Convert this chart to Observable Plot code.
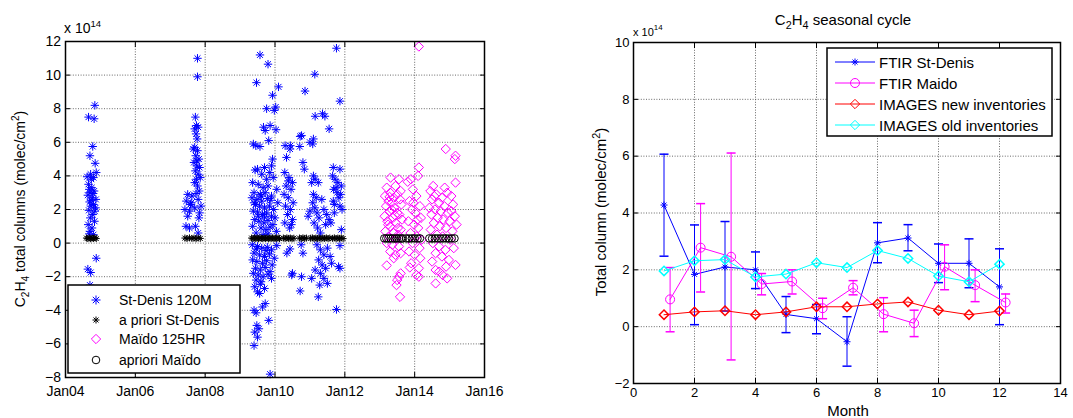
<!DOCTYPE html>
<html>
<head>
<meta charset="utf-8">
<script src="https://cdn.jsdelivr.net/npm/d3@7"></script>
<script src="https://cdn.jsdelivr.net/npm/@observablehq/plot@0.6"></script>
<style>
html,body{margin:0;padding:0;background:#fff;}
#wrap{position:relative;width:1073px;height:418px;overflow:hidden;background:#fff;font-family:"Liberation Sans",Arial,sans-serif;}
#left,#right{position:absolute;top:0;}
#left{left:0;} #right{left:540px;}
#wrap svg{overflow:hidden;background:transparent;}
</style>
</head>
<body>
<div id="wrap"><div id="left"></div><div id="right"></div></div>
<script>
// ---------------- LEFT PANEL DATA (decimal year, column / 1e14) ----------------
const leftXTicks = [2004, 2006, 2008, 2010, 2012, 2014, 2016];
const leftXLabels = ["Jan04", "Jan06", "Jan08", "Jan10", "Jan12", "Jan14", "Jan16"];
const leftYTicks = [-8, -6, -4, -2, 0, 2, 4, 6, 8, 10, 12];

const stDenis = [
  // 2004 campaign
  [2004.84,8.2],[2004.66,7.5],[2004.82,7.4],[2004.78,5.75],[2004.7,5.2],[2004.85,4.75],[2004.62,3.95],[2004.8,3.9],
  [2004.72,4.1],[2004.88,4.2],[2004.66,3.5],[2004.75,3.3],[2004.7,3.0],[2004.82,3.1],[2004.64,2.85],[2004.77,2.7],
  [2004.87,2.6],[2004.69,2.45],[2004.8,2.3],[2004.73,2.2],[2004.86,2.1],[2004.67,1.95],[2004.78,1.7],[2004.71,1.5],
  [2004.83,1.3],[2004.65,1.1],[2004.76,0.9],[2004.7,0.7],[2004.8,0.5],[2004.68,0.55],[2004.88,-0.9],[2004.64,-1.55],
  [2004.72,-1.75],[2004.7,-2.5],[2004.74,3.8],[2004.79,2.95],[2004.73,2.55],[2004.68,3.2],[2004.84,1.9],
  // 2007 campaign
  [2007.78,11.0],[2007.78,9.9],[2007.72,7.5],[2007.75,7.0],[2007.7,6.8],[2007.8,6.9],[2007.74,6.5],[2007.77,6.2],
  [2007.7,5.7],[2007.78,5.5],[2007.73,5.2],[2007.82,5.0],[2007.68,4.8],[2007.76,4.6],[2007.84,4.5],[2007.72,4.3],
  [2007.8,4.1],[2007.75,3.8],[2007.7,3.6],[2007.78,3.4],[2007.83,3.1],[2007.5,2.9],[2007.62,2.8],[2007.74,2.95],
  [2007.46,2.5],[2007.58,2.3],[2007.8,2.6],[2007.42,2.0],[2007.55,1.9],[2007.7,2.1],[2007.84,1.8],[2007.5,1.6],
  [2007.82,1.5],[2007.45,1.0],[2007.55,0.9],[2007.72,1.0],[2007.8,0.6],[2007.76,4.9],[2007.66,5.6],[2007.86,3.9],
  [2007.6,2.4],[2007.88,2.2],
  // 2009-2010 campaign
  [2009.57,11.2],[2009.8,10.65],[2009.47,9.55],[2010.1,9.3],[2009.93,8.8],[2009.76,8.0],[2010.02,8.1],[2009.98,7.9],
  [2009.67,6.9],[2009.86,7.0],[2010.03,6.75],[2009.72,6.7],[2009.38,5.9],[2009.57,5.75],[2009.82,6.1],[2009.45,5.8],
  [2009.93,5.0],[2009.9,4.6],[2009.43,4.35],[2009.62,4.1],[2009.76,3.8],[2009.85,4.2],[2009.95,3.9],[2009.5,4.4],[2009.7,4.5],
  [2009.36,3.6],[2009.52,3.5],[2009.66,3.3],[2009.8,3.4],[2010.05,3.2],[2009.4,3.0],[2009.58,2.9],[2009.72,3.0],
  [2009.9,2.8],[2009.34,2.7],[2009.48,2.6],[2009.62,2.5],[2009.78,2.65],[2010.08,2.4],[2009.44,2.3],[2009.56,2.2],
  [2009.7,2.1],[2009.84,2.2],[2009.96,2.0],[2009.38,1.9],[2009.5,1.85],[2009.64,1.7],[2009.76,1.8],[2009.9,1.6],
  [2010.0,1.5],[2009.42,1.4],[2009.54,1.3],[2009.68,1.2],[2009.8,1.35],[2009.94,1.1],[2009.36,1.0],[2009.6,0.9],
  [2009.74,0.8],[2009.86,0.95],[2010.04,0.7],[2009.46,0.6],[2009.66,0.5],[2009.8,0.55],[2009.4,2.4],[2009.6,2.8],
  [2009.88,2.55],[2009.52,1.6],[2009.7,1.55],
  [2009.35,-0.1],[2009.5,-0.2],[2009.62,-0.3],[2009.78,-0.25],[2009.9,-0.4],[2010.05,-0.15],[2009.4,-0.6],[2009.56,-0.7],
  [2009.7,-0.8],[2009.84,-0.65],[2009.98,-0.9],[2009.36,-1.0],[2009.48,-1.1],[2009.64,-1.2],[2009.76,-1.05],[2009.92,-1.3],
  [2009.44,-1.5],[2009.58,-1.6],[2009.72,-1.45],[2009.86,-1.7],[2009.38,-1.8],[2009.52,-1.9],[2009.66,-2.0],[2009.8,-1.85],
  [2009.46,-2.2],[2009.6,-2.3],[2009.42,-2.6],[2009.5,-2.9],[2009.56,-3.0],[2009.72,-3.6],[2009.64,-3.8],[2009.4,-4.0],
  [2009.46,-4.15],[2009.82,-4.6],[2009.48,-4.9],[2009.54,-5.1],[2009.42,-5.3],[2009.5,-5.6],[2009.4,-6.1],[2009.86,-7.8],
  [2009.58,-2.45],[2009.7,-2.7],[2009.9,-2.1],[2009.74,-0.45],[2009.46,-0.35],
  [2010.29,5.8],[2010.43,5.6],[2010.33,5.1],[2010.28,4.2],[2010.4,3.9],[2010.5,3.6],[2010.32,3.4],[2010.46,3.2],
  [2010.26,2.9],[2010.38,2.7],[2010.52,2.4],[2010.3,2.2],[2010.44,2.0],[2010.36,1.7],[2010.5,1.4],[2010.28,1.2],
  [2010.42,0.9],[2010.43,-0.35],[2010.5,-1.8],[2010.38,3.7],[2010.34,-0.6],[2010.47,1.1],[2010.44,5.8],
  // 2010-2011 campaign
  [2011.76,11.6],[2011.14,10.05],[2010.86,9.05],[2011.86,8.45],[2011.15,7.55],[2011.36,7.7],[2011.43,7.55],[2011.55,6.8],
  [2010.76,6.4],[2010.72,6.35],[2011.1,6.2],[2011.08,5.9],[2010.71,5.75],[2010.8,4.8],[2010.84,4.4],[2011.67,4.5],
  [2011.86,4.4],[2011.65,4.0],[2011.72,3.8],[2011.8,3.6],[2011.9,3.4],[2011.68,3.2],[2011.78,3.0],[2011.88,2.9],
  [2011.1,4.0],[2011.15,3.8],[2011.05,3.6],[2011.24,3.6],[2011.1,2.9],[2011.67,2.5],[2011.86,2.2],[2011.92,2.0],
  [2011.08,2.4],[2011.14,2.1],[2011.2,1.8],[2011.26,1.5],[2011.12,1.2],[2011.22,0.9],[2011.3,0.6],[2011.4,2.0],
  [2011.48,1.7],[2011.55,1.4],[2011.45,1.1],[2011.6,1.2],[2010.75,-0.1],[2010.8,-0.6],[2011.2,-0.1],[2011.3,-0.4],
  [2011.4,-0.7],[2011.25,-1.0],[2011.35,-1.3],[2011.45,-1.5],[2011.5,-0.3],[2011.58,-0.8],[2011.3,-1.8],[2011.4,-2.1],
  [2011.5,-2.4],[2011.86,-0.15],[2011.86,-1.5],[2011.82,-1.4],[2010.48,-1.9],[2010.76,-2.0],[2011.05,-2.1],[2010.72,-2.85],
  [2011.24,-3.2],[2011.76,-3.95],[2011.28,-2.5],[2011.34,2.6],[2011.18,2.7],[2011.0,1.9],[2010.95,1.6],[2011.9,0.8],
  [2011.7,1.8],[2011.62,-1.2],[2011.15,-1.6],[2011.75,3.3],[2011.83,2.7],[2011.7,2.3],[2011.0,6.0]
];

const aprioriStDenis = [
  [2004.60,0.30],[2004.64,0.27],[2004.68,0.31],[2004.72,0.26],[2004.76,0.30],[2004.80,0.28],[2004.84,0.32],[2004.88,0.27],
  [2007.42,0.30],[2007.48,0.27],[2007.55,0.31],[2007.62,0.28],[2007.68,0.30],[2007.74,0.26],[2007.80,0.31],[2007.86,0.28],
  [2009.33,0.30],[2009.37,0.27],[2009.41,0.31],[2009.45,0.28],[2009.49,0.30],[2009.53,0.26],[2009.57,0.31],[2009.61,0.29],
  [2009.65,0.27],[2009.69,0.30],[2009.73,0.28],[2009.77,0.31],[2009.81,0.26],[2009.85,0.30],[2009.89,0.28],[2009.93,0.31],
  [2009.97,0.27],[2010.01,0.30],[2010.05,0.28],[2010.09,0.31],[2010.13,0.27],
  [2010.24,0.30],[2010.29,0.27],[2010.34,0.31],[2010.39,0.28],[2010.44,0.30],[2010.49,0.26],[2010.54,0.29],
  [2010.70,0.30],[2010.75,0.27],[2010.80,0.31],[2010.85,0.28],[2010.90,0.30],
  [2011.02,0.29],[2011.07,0.31],[2011.12,0.27],[2011.17,0.30],[2011.22,0.28],[2011.27,0.31],[2011.32,0.26],[2011.37,0.30],
  [2011.42,0.28],[2011.47,0.31],[2011.52,0.27],[2011.57,0.30],
  [2011.65,0.28],[2011.70,0.31],[2011.75,0.27],[2011.80,0.30],[2011.85,0.28],[2011.90,0.31],[2011.95,0.27]
];

const maido = [
  [2013.31,3.9],[2013.55,3.8],[2013.2,3.3],[2013.45,3.4],[2013.3,3.0],[2013.6,3.1],[2013.15,2.8],[2013.4,2.7],
  [2013.5,2.9],[2013.25,2.5],[2013.35,2.4],[2013.58,2.6],[2013.18,2.2],[2013.42,2.1],[2013.62,2.3],[2013.28,1.9],
  [2013.5,1.8],[2013.14,1.6],[2013.38,1.5],[2013.56,1.7],[2013.22,1.3],[2013.46,1.2],[2013.64,1.4],[2013.3,1.0],
  [2013.52,0.9],[2013.16,0.7],[2013.4,0.6],[2013.6,0.8],[2013.26,0.4],[2013.48,0.3],[2013.2,0.0],[2013.36,-0.1],
  [2013.55,-0.2],[2013.3,-0.5],[2013.45,-0.7],[2013.6,-0.6],[2013.4,-0.9],[2013.2,-1.33],[2013.6,-1.8],[2013.5,-2.2],
  [2013.55,-2.0],[2013.48,-2.5],[2013.58,-3.2],[2013.34,2.0],[2013.24,1.1],[2013.44,1.65],[2013.53,0.5],[2013.28,2.75],
  [2014.12,11.7],[2014.12,4.5],[2014.1,4.0],[2013.89,3.8],[2013.8,3.65],[2013.95,3.2],[2014.05,2.8],[2013.85,2.5],
  [2014.15,2.2],[2013.92,2.0],[2014.02,1.8],[2014.18,1.5],[2013.82,1.3],[2013.98,1.1],[2014.1,0.9],[2013.88,0.6],
  [2014.06,0.4],[2014.2,0.2],[2013.94,0.0],[2014.14,-0.3],[2013.84,-0.5],[2014.0,-0.7],[2014.16,-0.9],[2013.9,-1.2],
  [2014.12,-1.5],[2013.86,-1.45],[2014.05,-1.9],[2014.12,-2.0],[2014.08,1.4],[2013.96,2.4],
  [2014.89,5.6],[2015.17,5.2],[2015.15,5.0],[2014.53,3.4],[2014.93,3.0],[2015.17,3.6],[2014.45,3.1],[2014.62,2.9],
  [2014.78,2.7],[2015.05,2.8],[2014.5,2.6],[2014.7,2.4],[2014.85,2.2],[2015.1,2.3],[2014.42,2.1],[2014.58,2.0],
  [2014.75,1.9],[2014.95,1.8],[2015.15,1.6],[2014.48,1.7],[2014.66,1.5],[2014.82,1.4],[2015.0,1.3],[2015.2,1.1],
  [2014.55,1.2],[2014.72,1.0],[2014.9,0.9],[2015.08,0.7],[2014.46,0.8],[2014.64,0.5],[2014.8,0.4],[2015.02,0.2],
  [2014.52,0.0],[2014.7,-0.2],[2014.88,-0.4],[2015.12,-0.3],[2014.6,-0.6],[2014.78,-0.8],[2014.98,-1.0],[2015.17,-1.3],
  [2014.7,-1.7],[2014.6,-1.6],[2014.6,-2.4],[2014.8,-1.9],[2014.9,-1.4],[2014.93,-2.1],[2014.5,-1.1],[2015.05,1.9],
  [2014.56,2.8],[2014.86,3.3]
];

const aprioriMaido = [
  [2013.13,0.28],[2013.19,0.28],[2013.25,0.27],[2013.31,0.28],[2013.37,0.28],[2013.43,0.27],[2013.49,0.28],[2013.55,0.28],
  [2013.61,0.27],[2013.66,0.28],
  [2013.76,0.28],[2013.84,0.27],[2013.92,0.28],[2014.0,0.28],[2014.08,0.27],[2014.15,0.28],
  [2014.42,0.28],[2014.5,0.27],[2014.58,0.28],[2014.66,0.28],[2014.74,0.27],[2014.82,0.28],[2014.9,0.28],[2014.98,0.27],
  [2015.06,0.28],[2015.14,0.28]
];

// ---------------- RIGHT PANEL DATA (seasonal cycle, / 1e14) ----------------
const rightXTicks = [0, 2, 4, 6, 8, 10, 12, 14];
const rightYTicks = [-2, 0, 2, 4, 6, 8, 10];
const months = [1, 2, 3, 4, 5, 6, 7, 8, 9, 10, 11, 12];
const maidoMonths = [1.2, 2.2, 3.2, 4.2, 5.2, 6.2, 7.2, 8.2, 9.2, 10.2, 11.2, 12.2];
const stDenisMean = [4.28, 1.84, 2.10, 2.00, 0.43, 0.28, -0.53, 2.95, 3.12, 2.23, 2.23, 1.40];
const stDenisLo   = [2.48, 0.07, 0.55, 1.34, -0.21, -0.25, -1.39, 2.25, 2.67, 1.55, 1.37, 0.07];
const stDenisHi   = [6.07, 3.58, 3.70, 2.63, 1.06, 0.78, 0.35, 3.66, 3.59, 2.91, 3.09, 2.74];
const maidoMean = [0.96, 2.78, 2.46, 1.50, 1.59, 0.65, 1.37, 0.44, 0.12, 2.11, 1.46, 0.85];
const maidoLo   = [-0.18, 1.22, -1.17, 1.12, 1.15, 0.28, 1.12, -0.18, -0.35, 1.30, 0.88, 0.48];
const maidoHi   = [2.08, 4.33, 6.11, 1.87, 2.00, 1.00, 1.62, 1.02, 0.58, 2.88, 2.00, 1.15];
const imagesNew = [0.42, 0.52, 0.56, 0.42, 0.52, 0.70, 0.70, 0.80, 0.87, 0.58, 0.42, 0.55];
const imagesOld = [1.96, 2.32, 2.36, 1.75, 1.85, 2.25, 2.08, 2.68, 2.40, 1.78, 1.58, 2.20];

const BLUE = "#0000ff", MAG = "#ff00ff", RED = "#ff0000", CYAN = "#00ffff";
const FONT = "'Liberation Sans', Arial, sans-serif";

// custom symbols
const starSymbol = {draw(ctx, size) {
  const r = Math.sqrt(size / Math.PI), d = r * Math.SQRT1_2;
  ctx.moveTo(-r, 0); ctx.lineTo(r, 0); ctx.moveTo(0, -r); ctx.lineTo(0, r);
  ctx.moveTo(-d, -d); ctx.lineTo(d, d); ctx.moveTo(-d, d); ctx.lineTo(d, -d);
}};
const capSymbol = {draw(ctx, size) {
  const r = Math.sqrt(size / Math.PI);
  ctx.moveTo(-r, 0); ctx.lineTo(r, 0);
}};
const gridStyle = {stroke: "#444", strokeOpacity: 0.8, strokeDasharray: "1,1.6", strokeWidth: 1};

// ---------------- LEFT PLOT ----------------
const leftSvg = Plot.plot({
  width: 540, height: 418,
  marginLeft: 65, marginRight: 56, marginTop: 41, marginBottom: 41,
  style: {fontFamily: FONT, fontSize: "14px", color: "#000", background: "transparent"},
  x: {domain: [2004, 2016]},
  y: {domain: [-8, 12]},
  marks: [
    Plot.gridX(leftXTicks, gridStyle),
    Plot.gridY(leftYTicks, gridStyle),
    Plot.dot(stDenis, {x: d => d[0], y: d => d[1], symbol: starSymbol, r: 4.2, stroke: BLUE, fill: "none", strokeWidth: 1}),
    Plot.dot(aprioriStDenis, {x: d => d[0], y: d => d[1], symbol: starSymbol, r: 3.5, stroke: "#000", fill: "none", strokeWidth: 1}),
    Plot.dot(maido, {x: d => d[0], y: d => d[1], symbol: "diamond2", r: 4.2, stroke: MAG, fill: "none", strokeWidth: 1}),
    Plot.dot(aprioriMaido, {x: d => d[0], y: d => d[1], symbol: "circle", r: 3.8, stroke: "#000", fill: "none", strokeWidth: 1}),
    Plot.frame({stroke: "#000", strokeWidth: 1.5}),
    Plot.axisX(leftXTicks, {anchor: "bottom", tickSize: -5, tickPadding: 14, label: null,
      tickFormat: d => leftXLabels[leftXTicks.indexOf(d)]}),
    Plot.axisX(leftXTicks, {anchor: "top", tickSize: -5, label: null, tickFormat: () => ""}),
    Plot.axisY(leftYTicks, {anchor: "left", tickSize: -5, tickPadding: 9.5, label: null}),
    Plot.axisY(leftYTicks, {anchor: "right", tickSize: -5, label: null, tickFormat: () => ""})
  ]
});
document.getElementById("left").appendChild(leftSvg);

// ---------------- RIGHT PLOT ----------------
const sdTable = months.map((m, i) => ({m, v: stDenisMean[i], lo: stDenisLo[i], hi: stDenisHi[i]}));
const mdTable = maidoMonths.map((m, i) => ({m, v: maidoMean[i], lo: maidoLo[i], hi: maidoHi[i]}));
const newTable = months.map((m, i) => ({m, v: imagesNew[i]}));
const oldTable = months.map((m, i) => ({m, v: imagesOld[i]}));

function errMarks(table, color, sym, r) {
  return [
    Plot.ruleX(table, {x: "m", y1: "lo", y2: "hi", stroke: color, strokeWidth: 1}),
    Plot.dot(table, {x: "m", y: "lo", symbol: capSymbol, r: 4.5, stroke: color, fill: "none"}),
    Plot.dot(table, {x: "m", y: "hi", symbol: capSymbol, r: 4.5, stroke: color, fill: "none"}),
    Plot.line(table, {x: "m", y: "v", stroke: color, strokeWidth: 1}),
    Plot.dot(table, {x: "m", y: "v", symbol: sym, r, stroke: color, fill: "none", strokeWidth: 1})
  ];
}

const rightSvg = Plot.plot({
  width: 533, height: 418,
  marginLeft: 93, marginRight: 13, marginTop: 42, marginBottom: 35,
  style: {fontFamily: FONT, fontSize: "13px", color: "#000", background: "transparent"},
  x: {domain: [0, 14]},
  y: {domain: [-2, 10]},
  marks: [
    Plot.gridX(rightXTicks, gridStyle),
    Plot.gridY(rightYTicks, gridStyle),
    ...errMarks(sdTable, BLUE, starSymbol, 3.5),
    ...errMarks(mdTable, MAG, "circle", 4.5),
    Plot.line(newTable, {x: "m", y: "v", stroke: RED, strokeWidth: 1}),
    Plot.dot(newTable, {x: "m", y: "v", symbol: "diamond2", r: 4.2, stroke: RED, fill: "none"}),
    Plot.line(oldTable, {x: "m", y: "v", stroke: CYAN, strokeWidth: 1}),
    Plot.dot(oldTable, {x: "m", y: "v", symbol: "diamond2", r: 4.2, stroke: CYAN, fill: "none"}),
    Plot.frame({stroke: "#000", strokeWidth: 1.5}),
    Plot.axisX(rightXTicks, {anchor: "bottom", tickSize: -5, tickPadding: 9, label: null}),
    Plot.axisX(rightXTicks, {anchor: "top", tickSize: -5, label: null, tickFormat: () => ""}),
    Plot.axisY(rightYTicks, {anchor: "left", tickSize: -5, tickPadding: 9, label: null}),
    Plot.axisY(rightYTicks, {anchor: "right", tickSize: -5, label: null, tickFormat: () => ""})
  ]
});
document.getElementById("right").appendChild(rightSvg);

// ---------------- DECORATIONS (text, legends) ----------------
function addText(svg, x, y, parts, opts = {}) {
  const t = d3.select(svg).append("text")
    .attr("font-family", FONT).attr("font-size", opts.size || 14).attr("fill", "#000")
    .attr("text-anchor", opts.anchor || "start");
  if (opts.rotate) t.attr("transform", `translate(${x},${y}) rotate(${opts.rotate})`);
  else t.attr("x", x).attr("y", y);
  let shift = 0;
  for (const p of parts) {
    const s = typeof p === "string" ? {t: p} : p;
    const target = s.sub ? 4 : s.sup ? -6 : 0;
    const sp = t.append("tspan").text(s.t).attr("dy", target - shift);
    if (s.sub || s.sup) sp.attr("font-size", (opts.size || 14) * (s.small || 0.72));
    shift = target;
  }
  return t;
}
const L = leftSvg, R = rightSvg;
// left: exponent + y label
addText(L, 64, 33, ["x 10", {t: "14", sup: true, small: 0.68}], {size: 14});
addText(L, 25, 209, ["C", {t: "2", sub: true}, "H", {t: "4", sub: true}, " total columns (molec/cm", {t: "2", sup: true}, ")"],
  {size: 14, anchor: "middle", rotate: -90});
// right: title, exponent, labels
addText(R, 303, 25, ["C", {t: "2", sub: true}, "H", {t: "4", sub: true}, " seasonal cycle"], {size: 15, anchor: "middle"});
addText(R, 93, 36, ["x 10", {t: "14", sup: true, small: 0.72}], {size: 11});
addText(R, 308, 416, ["Month"], {size: 15, anchor: "middle"});
addText(R, 66, 212, ["Total column (molec/cm", {t: "2", sup: true}, ")"], {size: 15, anchor: "middle", rotate: -90});

// left legend
(function () {
  const g = d3.select(L).append("g");
  g.append("rect").attr("x", 68).attr("y", 285).attr("width", 172).attr("height", 88)
    .attr("fill", "#fff").attr("stroke", "#000").attr("stroke-width", 1.5);
  const rows = [
    {label: "St-Denis 120M", sym: starSymbol, r: 4.5, color: BLUE, y: 300},
    {label: "a priori St-Denis", sym: starSymbol, r: 3.5, color: "#000", y: 320},
    {label: "Maïdo 125HR", sym: d3.symbolDiamond2, r: 4.2, color: MAG, y: 339},
    {label: "apriori Maïdo", sym: d3.symbolCircle, r: 3.8, color: "#000", y: 360}
  ];
  for (const row of rows) {
    g.append("path").attr("d", d3.symbol(row.sym, Math.PI * row.r * row.r)())
      .attr("transform", `translate(96,${row.y})`).attr("fill", "none").attr("stroke", row.color);
    g.append("text").attr("x", 119).attr("y", row.y + 5).attr("font-family", FONT).attr("font-size", 14)
      .attr("text-anchor", "start").attr("fill", "#000").text(row.label);
  }
})();

// right legend
(function () {
  const g = d3.select(R).append("g");
  g.append("rect").attr("x", 287).attr("y", 48).attr("width", 225).attr("height", 88)
    .attr("fill", "#fff").attr("stroke", "#000").attr("stroke-width", 1.5);
  const rows = [
    {label: "FTIR St-Denis", sym: starSymbol, r: 3.5, color: BLUE, y: 62},
    {label: "FTIR Maido", sym: d3.symbolCircle, r: 4.5, color: MAG, y: 83},
    {label: "IMAGES new inventories", sym: d3.symbolDiamond2, r: 4.2, color: RED, y: 104},
    {label: "IMAGES old inventories", sym: d3.symbolDiamond2, r: 4.2, color: CYAN, y: 125}
  ];
  for (const row of rows) {
    g.append("line").attr("x1", 295).attr("x2", 335).attr("y1", row.y).attr("y2", row.y)
      .attr("stroke", row.color).attr("stroke-width", 1);
    g.append("path").attr("d", d3.symbol(row.sym, Math.PI * row.r * row.r)())
      .attr("transform", `translate(315,${row.y})`).attr("fill", "none").attr("stroke", row.color);
    g.append("text").attr("x", 339).attr("y", row.y + 5.5).attr("font-family", FONT).attr("font-size", 15)
      .attr("text-anchor", "start").attr("fill", "#000").text(row.label);
  }
})();
</script>
</body>
</html>
